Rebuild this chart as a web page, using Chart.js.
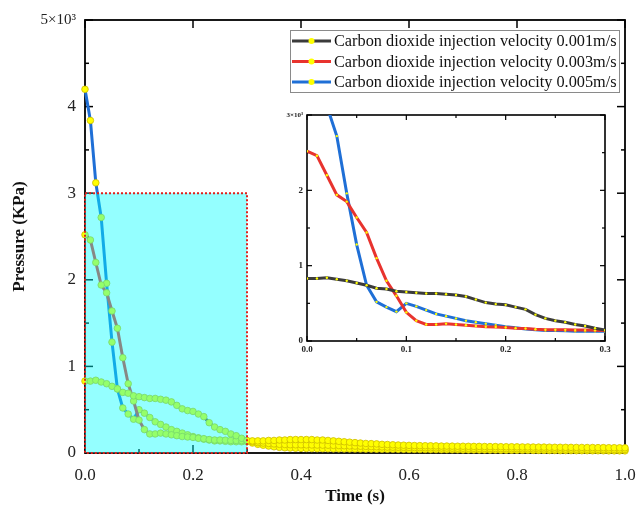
<!DOCTYPE html>
<html><head><meta charset="utf-8">
<script src="https://cdn.jsdelivr.net/npm/chart.js@4.4.0/dist/chart.umd.min.js"></script>
<style>
html,body{margin:0;padding:0;background:#fff;}
#wrap{position:relative;width:636px;height:510px;overflow:hidden;}
#main{position:absolute;left:0;top:0;width:636px;height:510px;}
#inset{position:absolute;left:270px;top:105px;width:345px;height:255px;}
</style></head><body>
<div id="wrap">
<canvas id="main" width="636" height="510"></canvas>
<canvas id="inset" width="345" height="255"></canvas>
</div>
<script>
// ---- data (pressure in Pa vs time in s) ----
const times = [0,0.01,0.02,0.03,0.04,0.05,0.06,0.07,0.08,0.09,0.1,0.11,0.12,0.13,0.14,0.15,0.16,0.17,0.18,0.19,0.2,0.21,0.22,0.23,0.24,0.25,0.26,0.27,0.28,0.29,0.3,0.31,0.32,0.33,0.34,0.35,0.36,0.37,0.38,0.39,0.4,0.41,0.42,0.43,0.44,0.45,0.46,0.47,0.48,0.49,0.5,0.51,0.52,0.53,0.54,0.55,0.56,0.57,0.58,0.59,0.6,0.61,0.62,0.63,0.64,0.65,0.66,0.67,0.68,0.69,0.7,0.71,0.72,0.73,0.74,0.75,0.76,0.77,0.78,0.79,0.8,0.81,0.82,0.83,0.84,0.85,0.86,0.87,0.88,0.89,0.9,0.91,0.92,0.93,0.94,0.95,0.96,0.97,0.98,0.99,1];
const v001 = [830,830,840,820,800,770,740,700,690,660,650,640,630,630,620,610,590,550,510,490,480,450,420,350,300,270,250,220,200,170,145,
 140,140,140,145,145,150,150,155,155,155,155,155,150,150,145,140,135,130,125,120,
 115,110,108,105,100,98,95,92,90,88,
 86,85,84,83,82,80,80,79,78,78,
 77,76,76,75,74,74,73,72,72,71,
 70,70,69,68,68,67,66,66,65,65,
 64,64,63,63,62,62,61,61,60,60];
const v003 = [2520,2460,2200,1940,1850,1640,1440,1100,800,600,380,270,220,220,230,220,210,200,190,185,180,170,165,155,150,150,148,145,145,143,140,
 130,120,115,110,105,100,98,96,95,95,94,93,92,91,90,88,86,84,82,80,
 78,76,74,72,70,68,67,66,65,64,
 63,62,61,60,59,58,57,56,55,55,
 54,54,53,53,52,52,51,51,50,50,
 49,49,48,48,47,47,46,46,45,45,
 44,44,43,43,42,42,41,41,40,40];
const v005 = [4200,3840,3120,2720,1960,1280,740,520,450,390,500,460,410,360,330,300,270,250,230,210,190,175,160,150,140,140,135,130,130,130,130,
 115,100,90,80,72,65,60,57,55,53,52,51,50,50,49,48,48,47,47,46,
 46,45,45,44,44,43,43,42,42,41,
 41,40,40,39,39,38,38,37,37,36,
 36,36,35,35,34,34,33,33,32,32,
 31,31,30,30,30,29,29,28,28,28,
 27,27,27,26,26,26,25,25,25,25];
const seriesLabels = ['Carbon dioxide injection velocity 0.001m/s','Carbon dioxide injection velocity 0.003m/s','Carbon dioxide injection velocity 0.005m/s'];
const seriesValues = [v001, v003, v005];
const seriesColors = ['#3b3b3b', '#e8332e', '#1f6fd6'];
const zoomTime = [0, 0.3];      // highlighted window / inset x range
const zoomPressure = [0, 3000]; // highlighted window / inset y range

const SERIF = '"Liberation Serif","Times New Roman",serif';

function pts(vals, n){ const out=[]; for(let i=0;i<(n||vals.length);i++) out.push({x:times[i], y:vals[i]}); return out; }

const frameTicks = {
  id:'frameTicks',
  beforeDatasetsDraw(chart, args, o){
    const {ctx, chartArea:a, scales:{x, y}} = chart;
    ctx.save();
    ctx.strokeStyle='#000';
    ctx.lineWidth=o.tw;
    const ln=(x1,y1,x2,y2)=>{ctx.beginPath();ctx.moveTo(x1,y1);ctx.lineTo(x2,y2);ctx.stroke();};
    const nx=Math.round((x.max-x.min)/o.xMinor);
    for(let i=0;i<=nx;i++){
      const v=x.min+i*o.xMinor, px=x.getPixelForValue(v);
      const major = i % o.xEvery === 0;
      const L = major?o.major:o.minor;
      ln(px,a.bottom,px,a.bottom-L);
      if(major||o.topMinor) ln(px,a.top,px,a.top+L);
    }
    const ny=Math.round((y.max-y.min)/o.yMinor);
    for(let i=0;i<=ny;i++){
      const v=y.min+i*o.yMinor, py=y.getPixelForValue(v);
      const major = i % o.yEvery === 0;
      const L = major?o.major:o.minor;
      ln(a.left,py,a.left+L,py);
      ln(a.right,py,a.right-L,py);
    }
    ctx.lineWidth=o.lw;
    ctx.strokeRect(a.left,a.top,a.right-a.left,a.bottom-a.top);
    ctx.restore();
  }
};

const highlight = {
  id:'highlight',
  afterDatasetsDraw(chart){
    const {ctx, scales:{x,y}} = chart;
    const x0=x.getPixelForValue(zoomTime[0]), x1=x.getPixelForValue(zoomTime[1]);
    const y0=y.getPixelForValue(zoomPressure[0]), y1=y.getPixelForValue(zoomPressure[1]);
    ctx.save();
    ctx.fillStyle='rgba(0,255,255,0.42)';
    ctx.fillRect(x0,y1,x1-x0,y0-y1);
    ctx.setLineDash([2,2]);
    ctx.strokeStyle='#e0201c';
    ctx.lineWidth=2;
    ctx.strokeRect(x0,y1,x1-x0,y0-y1);
    ctx.restore();
  }
};

const boxLegend = {
  id:'boxLegend',
  afterDraw(chart){
    const ctx=chart.ctx;
    const bx=290, by=30, bw=329, bh=62;
    ctx.save();
    ctx.fillStyle='#fff';
    ctx.fillRect(bx,by,bw,bh);
    ctx.strokeStyle='#8a8a8a'; ctx.lineWidth=1;
    ctx.strokeRect(bx+0.5,by+0.5,bw,bh);
    ctx.font='16.3px '+SERIF;
    ctx.textBaseline='middle';
    chart.data.datasets.forEach((ds,i)=>{
      const yy=by+11+i*20.5;
      ctx.strokeStyle=ds.borderColor; ctx.lineWidth=3;
      ctx.beginPath(); ctx.moveTo(bx+2,yy); ctx.lineTo(bx+41,yy); ctx.stroke();
      ctx.fillStyle='#ffff00';
      ctx.beginPath(); ctx.arc(bx+21.5,yy,3,0,Math.PI*2); ctx.fill();
      ctx.fillStyle='#111';
      ctx.fillText(ds.label,bx+44,yy+1);
    });
    ctx.restore();
  }
};

new Chart(document.getElementById('main'), {
  type:'line',
  data:{ datasets: seriesValues.map((v,i)=>({
    label: seriesLabels[i], data: pts(v), borderColor: seriesColors[i], borderWidth:3,
    pointRadius:3.3, pointBackgroundColor:'#ffff00', pointBorderColor:'#cdbb00', pointBorderWidth:0.8,
    tension:0, clip:false
  }))},
  options:{
    responsive:false, animation:false, devicePixelRatio:1,
    layout:{padding:{top:20,right:11,left:0,bottom:0}},
    plugins:{ legend:{display:false}, tooltip:{enabled:false},
      frameTicks:{lw:1.8, tw:1.5, major:8, minor:4, xMinor:0.1, xEvery:2, yMinor:500, yEvery:2, topMinor:false}
    },
    scales:{
      x:{ type:'linear', min:0, max:1,
        ticks:{stepSize:0.2, callback:v=>Number(v).toFixed(1), font:{family:SERIF,size:17}, color:'#222', padding:12, maxRotation:0},
        grid:{display:false, drawTicks:false}, border:{display:false},
        title:{display:true, text:'Time (s)', font:{family:SERIF,size:17,weight:'bold'}, color:'#111', padding:{top:0,bottom:3}},
        afterFit(s){ s.height=57; s.paddingLeft=0; s.paddingRight=0; }
      },
      y:{ min:0, max:5000,
        ticks:{stepSize:1000, callback:v=> v===5000 ? '5×10³' : String(v/1000),
          font:c=>({family:SERIF, size:(c.tick && c.tick.value===5000)?15:17}), color:'#222', padding:9},
        grid:{display:false, drawTicks:false}, border:{display:false},
        title:{display:true, text:'Pressure (KPa)', font:{family:SERIF,size:17,weight:'bold'}, color:'#111', padding:{top:9,bottom:0}},
        afterFit(s){ s.width=85; s.paddingTop=0; s.paddingBottom=0; }
      }
    }
  },
  plugins:[frameTicks, highlight, boxLegend]
});

const nInset = times.filter(t=>t<=zoomTime[1]+1e-9).length;
new Chart(document.getElementById('inset'), {
  type:'line',
  data:{ datasets: seriesValues.map((v,i)=>({
    label: seriesLabels[i], data: pts(v, nInset), borderColor: seriesColors[i], borderWidth:3,
    pointRadius:1.2, pointBackgroundColor:'#ffff00', pointBorderWidth:0, tension:0
  }))},
  options:{
    responsive:false, animation:false, devicePixelRatio:1,
    layout:{padding:{top:10,right:10,left:0,bottom:0}},
    plugins:{ legend:{display:false}, tooltip:{enabled:false},
      frameTicks:{lw:1.6, tw:1.2, major:5, minor:3, xMinor:0.05, xEvery:2, yMinor:500, yEvery:2, topMinor:true}
    },
    scales:{
      x:{ type:'linear', min:zoomTime[0], max:zoomTime[1],
        ticks:{stepSize:0.1, callback:v=>Number(v).toFixed(1), font:{family:SERIF,size:9,weight:'bold'}, color:'#222', padding:3, maxRotation:0},
        grid:{display:false, drawTicks:false}, border:{display:false},
        afterFit(s){ s.height=19; s.paddingLeft=0; s.paddingRight=0; }
      },
      y:{ min:zoomPressure[0], max:zoomPressure[1],
        ticks:{stepSize:1000, callback:v=> v===3000 ? '3×10³' : String(v/1000),
          font:c=>({family:SERIF, weight:'bold', size:(c.tick && c.tick.value===3000)?7:9}), color:'#222', padding:4},
        grid:{display:false, drawTicks:false}, border:{display:false},
        afterFit(s){ s.width=37; s.paddingTop=0; s.paddingBottom=0; }
      }
    }
  },
  plugins:[frameTicks]
});
</script>
</body></html>
